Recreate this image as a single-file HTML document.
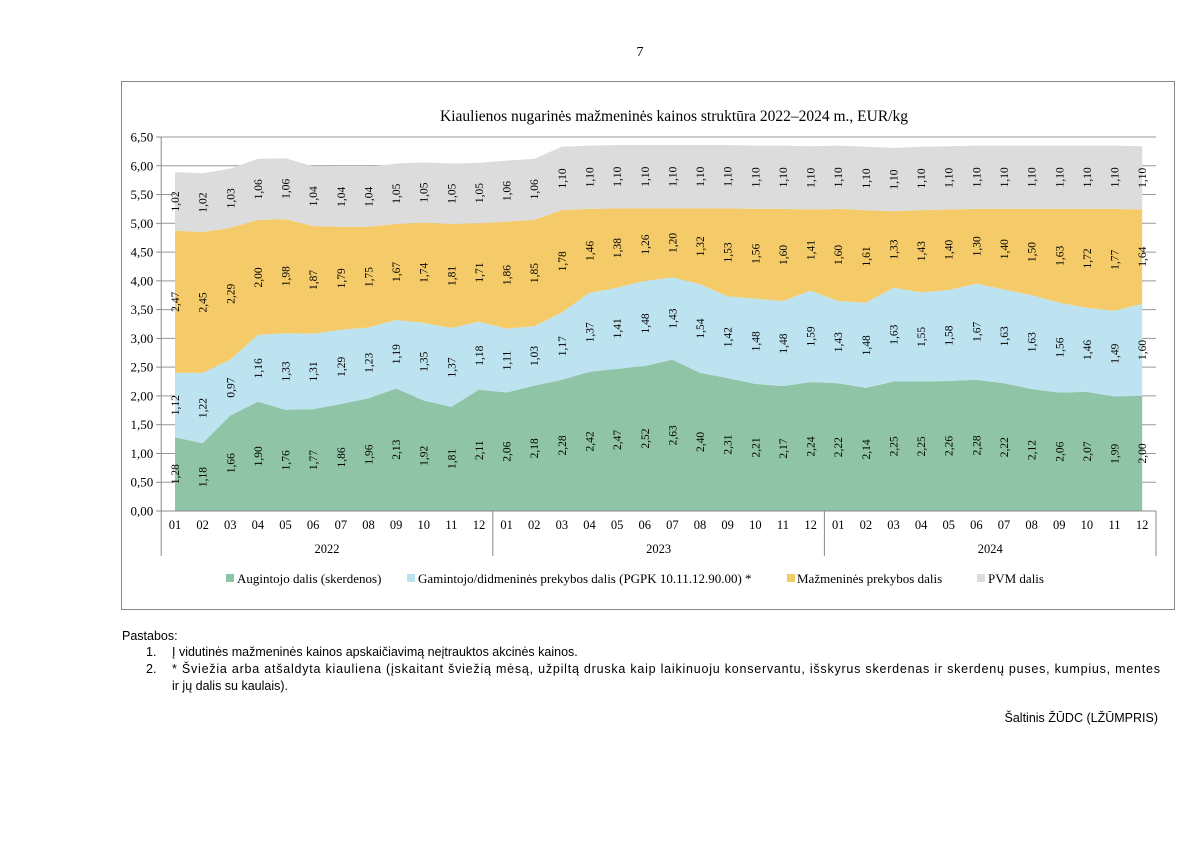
<!DOCTYPE html>
<html><head><meta charset="utf-8"><style>
body{margin:0;background:#fff;width:1200px;height:849px;overflow:hidden}
svg{display:block}
.s{font-family:"Liberation Serif",serif}
.a{font-family:"Liberation Sans",sans-serif;font-size:12.5px}
</style></head><body>
<svg id="c" width="1200" height="849" xmlns="http://www.w3.org/2000/svg">
<text class="s" x="640" y="56" font-size="14" text-anchor="middle">7</text>
<rect x="121.5" y="81.5" width="1053" height="528" fill="none" stroke="#888" stroke-width="1"/>
<text class="s" x="674" y="121" font-size="15.5" text-anchor="middle">Kiaulienos nugarinės mažmeninės kainos struktūra 2022–2024 m., EUR/kg</text>
<g id="grid"></g><g id="areas"></g><g id="labels"></g><g id="axes"></g>
<g class="s" font-size="13">
<rect x="226" y="574" width="8" height="8" fill="#8fc4a6"/><text x="237" y="583">Augintojo dalis (skerdenos)</text>
<rect x="407" y="574" width="8" height="8" fill="#bde3f0"/><text x="418" y="583">Gamintojo/didmeninės prekybos dalis (PGPK 10.11.12.90.00) *</text>
<rect x="787" y="574" width="8" height="8" fill="#f5cb6a"/><text x="797" y="583">Mažmeninės prekybos dalis</text>
<rect x="977" y="574" width="8" height="8" fill="#dcdcdc"/><text x="988" y="583">PVM dalis</text>
</g>
<g class="a">
<text x="122" y="640">Pastabos:</text>
<text x="146" y="656">1.</text><text x="172" y="656">Į vidutinės mažmeninės kainos apskaičiavimą neįtrauktos akcinės kainos.</text>
<text x="146" y="673">2.</text><text x="172" y="673" textLength="988">* Šviežia arba atšaldyta kiauliena (įskaitant šviežią mėsą, užpiltą druska kaip laikinuoju konservantu, išskyrus skerdenas ir skerdenų puses, kumpius, mentes</text>
<text x="172" y="690">ir jų dalis su kaulais).</text>
<text x="1158" y="722" text-anchor="end">Šaltinis ŽŪDC (LŽŪMPRIS)</text>
</g>
</svg>
<script>
const months=["01","02","03","04","05","06","07","08","09","10","11","12"];
const years=["2022","2023","2024"];
const grower=[1.28,1.18,1.66,1.90,1.76,1.77,1.86,1.96,2.13,1.92,1.81,2.11,2.06,2.18,2.28,2.42,2.47,2.52,2.63,2.40,2.31,2.21,2.17,2.24,2.22,2.14,2.25,2.25,2.26,2.28,2.22,2.12,2.06,2.07,1.99,2.00];
const producer=[1.12,1.22,0.97,1.16,1.33,1.31,1.29,1.23,1.19,1.35,1.37,1.18,1.11,1.03,1.17,1.37,1.41,1.48,1.43,1.54,1.42,1.48,1.48,1.59,1.43,1.48,1.63,1.55,1.58,1.67,1.63,1.63,1.56,1.46,1.49,1.60];
const retail=[2.47,2.45,2.29,2.00,1.98,1.87,1.79,1.75,1.67,1.74,1.81,1.71,1.86,1.85,1.78,1.46,1.38,1.26,1.20,1.32,1.53,1.56,1.60,1.41,1.60,1.61,1.33,1.43,1.40,1.30,1.40,1.50,1.63,1.72,1.77,1.64];
const vat=[1.02,1.02,1.03,1.06,1.06,1.04,1.04,1.04,1.05,1.05,1.05,1.05,1.06,1.06,1.10,1.10,1.10,1.10,1.10,1.10,1.10,1.10,1.10,1.10,1.10,1.10,1.10,1.10,1.10,1.10,1.10,1.10,1.10,1.10,1.10,1.10];
const yTicks=[0,0.5,1,1.5,2,2.5,3,3.5,4,4.5,5,5.5,6,6.5];
const NS="http://www.w3.org/2000/svg";
const L=161.2,R=1156,T=137,B=511,N=grower.length,step=(R-L)/N;
const x=i=>L+step*(i+0.5);
const y=v=>B-(v/6.5)*(B-T);
function mk(tag,at,parent){const e=document.createElementNS(NS,tag);for(const k in at)e.setAttribute(k,at[k]);document.getElementById(parent).appendChild(e);return e;}
const fmt=v=>v.toFixed(2).replace(".",",");
yTicks.forEach(v=>{
 const g=mk("line",{x1:L,x2:R,y1:y(v),y2:y(v),stroke:"#999","stroke-width":1},"grid");
 
 
 const t=mk("text",{x:L-8,y:y(v)+4.5,"font-size":13,"text-anchor":"end",class:"s"},"axes");t.textContent=fmt(v);
 
 
 const tk=mk("line",{x1:L-5,x2:L,y1:y(v),y2:y(v),stroke:"#888"},"axes");
 
 
});
const series=[grower,producer,retail,vat],cols=["#8fc4a6","#bde3f0","#f5cb6a","#dcdcdc"],names=["area-grower","area-producer","area-retail","area-vat"];
let base=new Array(N).fill(0);
series.forEach((s,k)=>{
 const top=s.map((v,i)=>base[i]+v);
 let d="M"+x(0)+","+y(top[0]);
 for(let i=1;i<N;i++)d+="L"+x(i)+","+y(top[i]);
 for(let i=N-1;i>=0;i--)d+="L"+x(i)+","+y(base[i]);
 const p=mk("path",{d:d+"Z",fill:cols[k]},"areas");
 
 
 s.forEach((v,i)=>{
  const cx=x(i)+4,cy=y(base[i]+v/2);
  const t=mk("text",{x:cx,y:cy,"font-size":11.5,"text-anchor":"middle",class:"s",transform:`rotate(-90 ${cx} ${cy})`},"labels");
  t.textContent=fmt(v);
  
  
 });
 base=top;
});
const ax=mk("line",{x1:L,x2:L,y1:T,y2:556,stroke:"#888"},"axes");


const bx=mk("line",{x1:L,x2:R,y1:B,y2:B,stroke:"#888"},"axes");


for(let i=0;i<N;i++){
 const t=mk("text",{x:x(i),y:529,"font-size":12.5,"text-anchor":"middle",class:"s"},"axes");
 t.textContent=months[i%12];
 
 
}
years.forEach((yr,j)=>{
 const sx=L+step*12*(j+1);
 const l=mk("line",{x1:sx,x2:sx,y1:B,y2:556,stroke:"#888"},"axes");
 
 
 const t=mk("text",{x:L+step*(12*j+6),y:553,"font-size":12.5,"text-anchor":"middle",class:"s"},"axes");
 t.textContent=yr;
 
 
});
</script>
</body></html>
